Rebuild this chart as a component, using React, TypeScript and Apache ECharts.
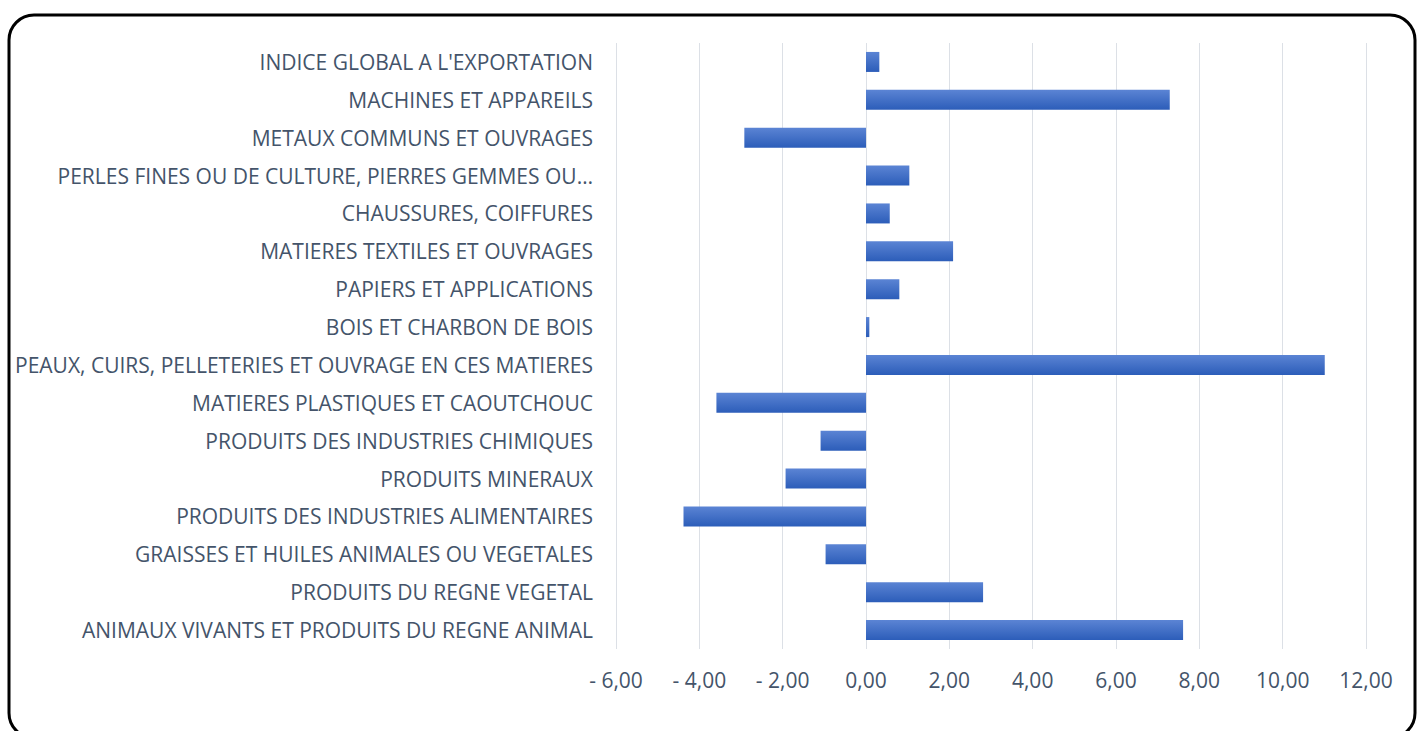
import React, { useEffect, useRef } from "react";
import * as echarts from "echarts";

const categories: string[] = [
  "INDICE GLOBAL A L'EXPORTATION",
  "MACHINES ET APPAREILS",
  "METAUX COMMUNS ET OUVRAGES",
  "PERLES FINES OU DE CULTURE, PIERRES GEMMES OU…",
  "CHAUSSURES, COIFFURES",
  "MATIERES TEXTILES ET OUVRAGES",
  "PAPIERS ET APPLICATIONS",
  "BOIS ET CHARBON DE BOIS",
  "PEAUX, CUIRS, PELLETERIES ET OUVRAGE EN CES MATIERES",
  "MATIERES PLASTIQUES ET CAOUTCHOUC",
  "PRODUITS DES INDUSTRIES CHIMIQUES",
  "PRODUITS MINERAUX",
  "PRODUITS DES INDUSTRIES ALIMENTAIRES",
  "GRAISSES ET HUILES ANIMALES OU VEGETALES",
  "PRODUITS DU REGNE VEGETAL",
  "ANIMAUX VIVANTS ET PRODUITS DU REGNE ANIMAL",
];

const values: number[] = [
  0.32, 7.29, -2.92, 1.04, 0.57, 2.09, 0.8, 0.08, 11.01, -3.59, -1.09, -1.93,
  -4.38, -0.97, 2.81, 7.61,
];

const axisMin = -6;
const axisMax = 12;
const axisInterval = 2;

const fontFamily = "'Open Sans', 'Noto Sans', sans-serif";
const textColor = "#44546A";

function fmt(v: number): string {
  const s = Math.abs(v).toFixed(2).replace(".", ",");
  return v < 0 ? "- " + s : s;
}

export default function App() {
  const ref = useRef<HTMLDivElement>(null);
  useEffect(() => {
    if (!ref.current) return;
    const chart = echarts.init(ref.current, undefined, { renderer: "svg" });
    chart.setOption({
      animation: false,
      backgroundColor: "#ffffff",
      grid: { left: 616, right: 55, top: 43, bottom: 82, containLabel: false },
      xAxis: {
        type: "value",
        min: axisMin,
        max: axisMax,
        interval: axisInterval,
        axisLine: { show: false },
        axisTick: { show: false },
        splitLine: { show: true, lineStyle: { color: "#DCE0E6", width: 1 } },
        axisLabel: {
          formatter: (v: number) => fmt(v),
          color: textColor,
          fontFamily,
          fontSize: 21,
          margin: 20,
        },
      },
      yAxis: {
        type: "category",
        data: categories,
        inverse: true,
        axisLine: { show: false },
        axisTick: { show: false },
        splitLine: { show: false },
        axisLabel: {
          color: textColor,
          fontFamily,
          fontSize: 21,
          margin: 23,
          interval: 0,
        },
      },
      series: [
        {
          type: "bar",
          data: values,
          barWidth: 20,
          itemStyle: {
            color: new echarts.graphic.LinearGradient(0, 0, 0, 1, [
              { offset: 0, color: "#5B84D4" },
              { offset: 1, color: "#2C5DB9" },
            ]),
          },
        },
      ],
      graphic: [
        {
          type: "rect",
          shape: { x: 9, y: 15, width: 1406, height: 723, r: 25 },
          style: { fill: "none", stroke: "#000000", lineWidth: 3 },
          z: 100,
        },
      ],
    });
    return () => chart.dispose();
  }, []);
  return (
    <div
      ref={ref}
      style={{ position: "absolute", left: 0, top: 0, width: 1421, height: 731 }}
    />
  );
}
